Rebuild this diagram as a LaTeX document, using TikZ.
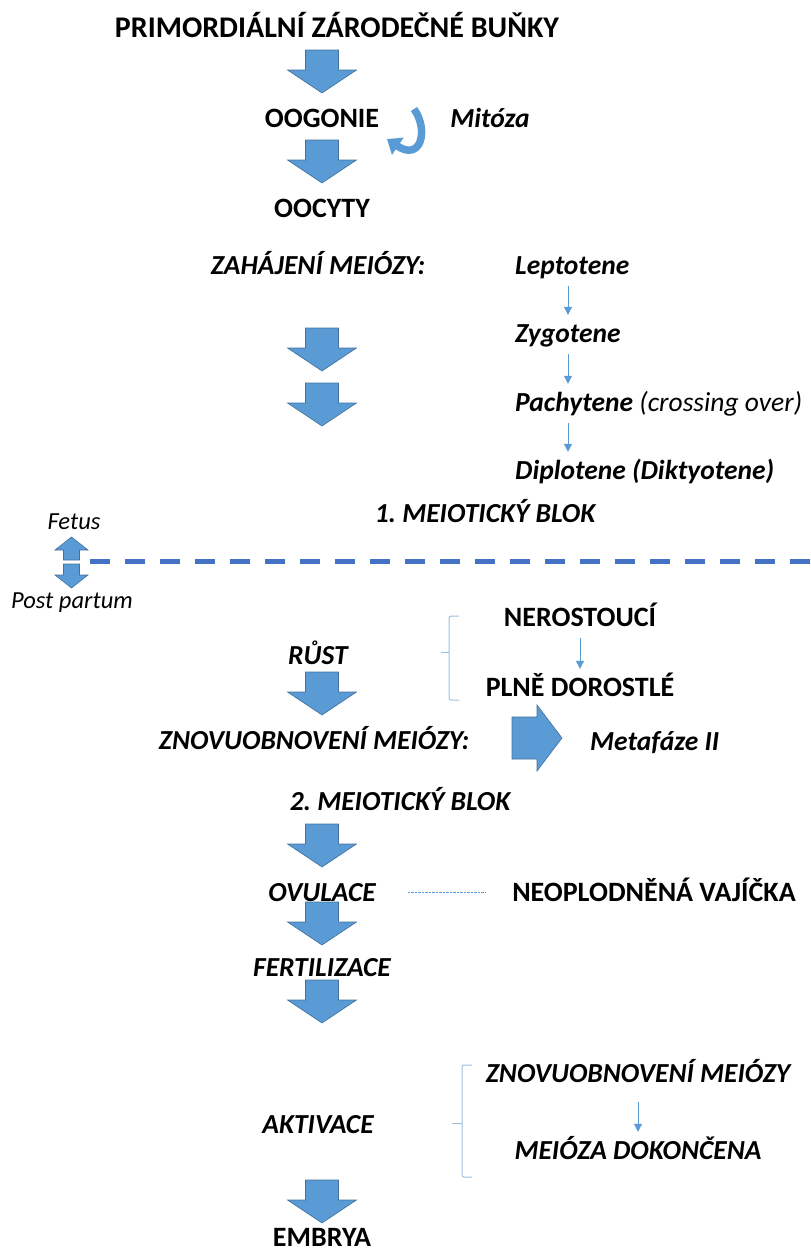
\documentclass[tikz,border=0pt]{standalone}
\usepackage{fontspec}
\setmainfont{Carlito}
\usetikzlibrary{arrows.meta}
\frenchspacing

\definecolor{arrowblue}{RGB}{91,155,213}
\definecolor{arrowedge}{RGB}{65,113,156}
\definecolor{lineblue}{RGB}{68,114,196}
\definecolor{bracegray}{RGB}{157,190,222}

\begin{document}
\begin{tikzpicture}[x={(1pt,0pt)}, y={(0pt,-1pt)}, line join=round,
  txt/.style={inner sep=0pt, text height=18pt, text depth=0pt,
    font=\fontsize{28}{32}\selectfont\bfseries},
  txtit/.style={txt, font=\fontsize{27.5}{32}\selectfont\bfseries\itshape},
  smalltxt/.style={inner sep=0pt, font=\fontsize{24.5}{28}\selectfont\itshape},
  blockarrow/.style={fill=arrowblue, draw=arrowedge, line width=0.6pt, line join=miter},
  thinarrow/.style={draw=arrowblue, line width=1pt, -{Triangle[width=8pt,length=8pt]},
    shorten <=12pt, shorten >=9pt},
  bracket/.style={draw=bracegray, line width=1pt, rounded corners=2pt}]
  \useasboundingbox (0,0) rectangle (811,1251);
  % main column
  \node[txt, font=\fontsize{30}{34}\selectfont\bfseries] (prim) at (337,28) {PRIMORDIÁLNÍ ZÁRODEČNÉ BUŇKY};
  \node[txt] (oog) at (322,118) {OOGONIE};
  \node[txtit] (mit) at (490,118) {Mitóza};
  \node[txt] (ooc) at (322,208) {OOCYTY};
  \node[txtit] (zah) at (318,265) {ZAHÁJENÍ MEIÓZY:};
  \node[txtit] (blok1) at (485,513) {1. MEIOTICKÝ BLOK};
  \node[txtit] (rust) at (318,655) {RŮST};
  \node[txtit] (znov) at (314,740) {ZNOVUOBNOVENÍ MEIÓZY:};
  \node[txtit] (blok2) at (400,801) {2. MEIOTICKÝ BLOK};
  \node[txtit] (ovu) at (322,892) {OVULACE};
  \node[txtit] (fert) at (322,967) {FERTILIZACE};
  \node[txtit] (akt) at (318,1124) {AKTIVACE};
  \node[txt] (emb) at (322,1237) {EMBRYA};
  % prophase stages
  \node[txtit, anchor=west] (lep) at (515,265) {Leptotene};
  \node[txtit, anchor=west] (zyg) at (515,333) {Zygotene};
  \node[txtit, anchor=west] (pach) at (515,402) {Pachytene {\mdseries(crossing over)}};
  \node[txtit, anchor=west] (dipl) at (515,470) {Diplotene (Diktyotene)};
  \coordinate (sx) at (568,0);
  \draw[thinarrow] (lep.south -| sx) -- (zyg.north -| sx);
  \draw[thinarrow] (zyg.south -| sx) -- (pach.north -| sx);
  \draw[thinarrow] (pach.south -| sx) -- (dipl.north -| sx);
  % right column
  \node[txt] (ner) at (580,617) {NEROSTOUCÍ};
  \node[txt] (pln) at (580,687) {PLNĚ DOROSTLÉ};
  \draw[thinarrow] (ner) -- (pln);
  \node[txtit, anchor=west] (meta) at (590,741) {Metafáze II};
  \node[txt] (neo) at (654,892) {NEOPLODNĚNÁ VAJÍČKA};
  \draw[arrowblue, line width=0.8pt, dash pattern=on 2.5pt off 1pt,
    shorten <=32pt, shorten >=26pt] (ovu.east) -- (neo.west);
  \node[txtit] (znov2) at (638,1073) {ZNOVUOBNOVENÍ MEIÓZY};
  \node[txtit] (mdok) at (638,1150) {MEIÓZA DOKONČENA};
  \draw[thinarrow, shorten <=20pt] (znov2) -- (mdok);
  % braces
  \draw[bracket] (459,616) -- (449,616) -- (449,700) -- (459,700);
  \draw[bracket] (449,652) -- (441,652);
  \draw[bracket] (472,1065) -- (462,1065) -- (462,1177) -- (472,1177);
  \draw[bracket] (462,1123) -- (452,1123);
  % block arrows
  \foreach \t in {50,140,328,383,672,824,902,980,1180}
    \draw[blockarrow] (305.5,\t) -- ++(33,0) -- ++(0,20) -- ++(18,0)
      -- ++(-34.5,23) -- ++(-34.5,-23) -- ++(18,0) -- cycle;
  \draw[blockarrow] (512,717) -- (537,717) -- (537,705) -- (562,738)
    -- (537,771) -- (537,759) -- (512,759) -- cycle;
  \draw[arrowblue, line width=7.5pt, -{Triangle[width=20pt,length=13pt]}]
    (414,109) .. controls (429,130) and (421,162) .. (387,139);
  % fetus / post partum
  \node[smalltxt] (fet) at (74,522) {Fetus};
  \node[smalltxt] (post) at (72,603) {Post partum};
  \draw[blockarrow] (63.5,560) -- (63.5,550) -- (55,550) -- (71.5,537)
    -- (88,550) -- (79.5,550) -- (79.5,560) -- cycle;
  \draw[blockarrow] (63.5,564) -- (79.5,564) -- (79.5,575) -- (88,575)
    -- (71.5,588) -- (55,575) -- (63.5,575) -- cycle;
  \draw[lineblue, line width=5pt, dash pattern=on 20pt off 15pt] (90,561) -- (811,561);
\end{tikzpicture}
\end{document}
